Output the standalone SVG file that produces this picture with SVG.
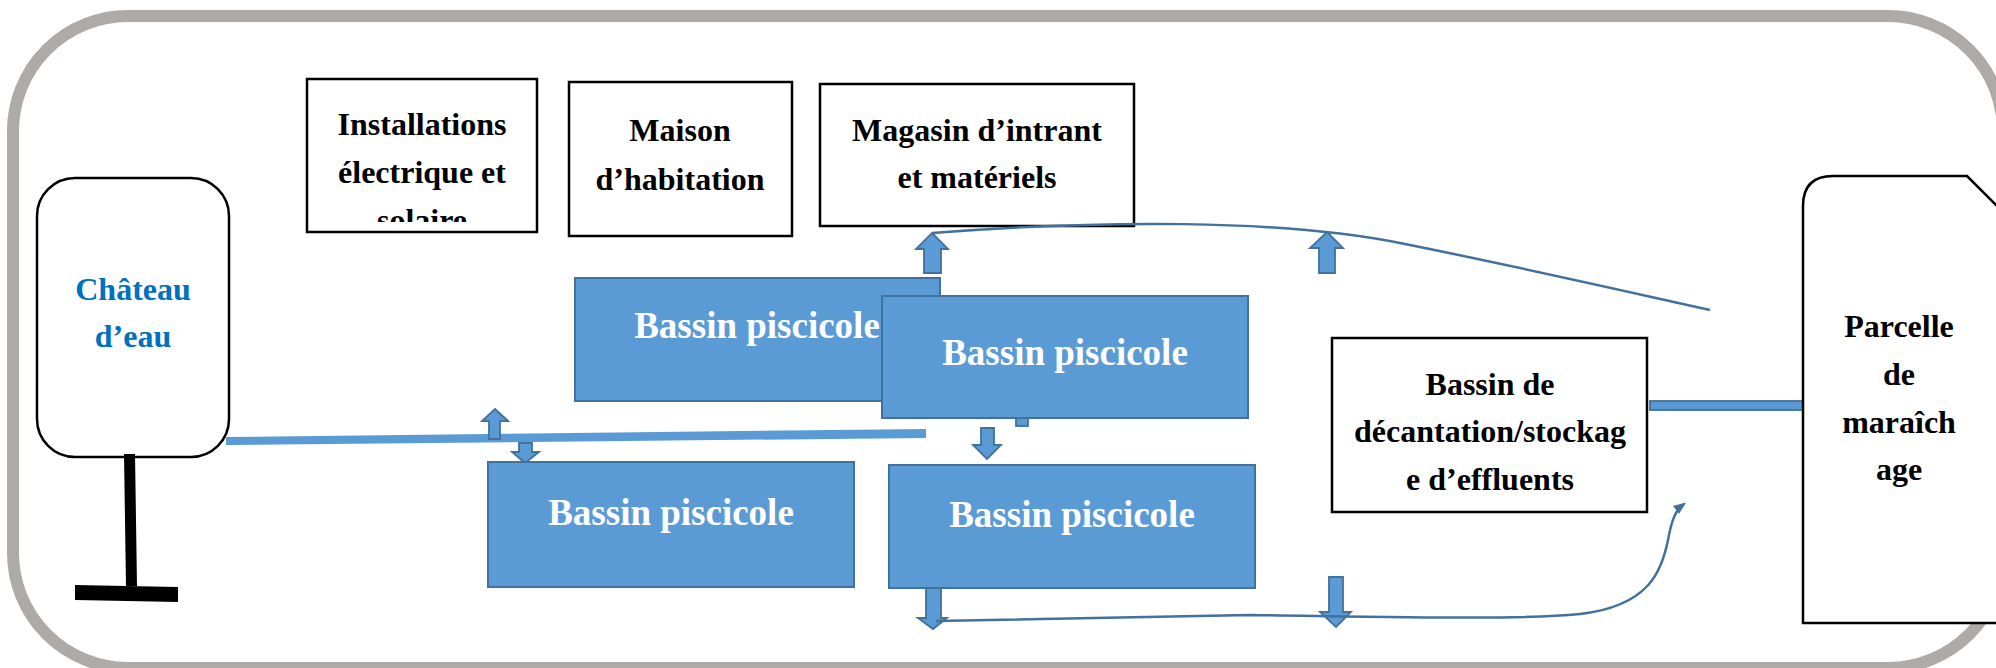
<svg xmlns="http://www.w3.org/2000/svg" width="1996" height="668" viewBox="0 0 1996 668">
<style>
.box{fill:#fff;stroke:#000;stroke-width:2.5}
.pond{fill:#5B9BD5;stroke:#41719C;stroke-width:2}
.blk{fill:#5B9BD5;stroke:#41719C;stroke-width:1.8;stroke-linejoin:miter}
.t{font-family:"Liberation Serif","Times New Roman",serif;font-weight:bold;font-size:32px;fill:#000;text-anchor:middle}
.tw{font-family:"Liberation Serif","Times New Roman",serif;font-weight:bold;font-size:37px;fill:#fff;text-anchor:middle}
.tb{font-family:"Liberation Serif","Times New Roman",serif;font-weight:bold;font-size:32px;fill:#0070C0;text-anchor:middle}
.curve{fill:none;stroke:#41719C;stroke-width:2.5}
</style>
<defs>
<clipPath id="clipInst"><rect x="300" y="70" width="250" height="152"/></clipPath>
<marker id="tip" viewBox="0 0 10 10" refX="8" refY="5" markerWidth="5" markerHeight="5" orient="auto" markerUnits="strokeWidth">
<path d="M0,1 L10,5 L0,9 Z" fill="#41719C"/>
</marker>
</defs>
<rect id="frame" x="13" y="16" width="1990" height="652" rx="115" ry="115" fill="#fff" stroke="#AEAAA8" stroke-width="12"/>

<g id="chateau">
<rect class="box" x="37" y="178" width="192" height="279" rx="38" ry="38"/>
<text class="tb" x="133" y="300">Château</text>
<text class="tb" x="133" y="347">d’eau</text>
<polygon points="124,454 135,454 137,586 126,586" fill="#000"/>
<polygon points="75,585 178,587 178,602 75,600" fill="#000"/>
</g>

<g id="installations">
<rect class="box" x="307" y="79" width="230" height="153"/>
<g clip-path="url(#clipInst)">
<text class="t" x="422" y="135">Installations</text>
<text class="t" x="422" y="183">électrique et</text>
<text class="t" x="422" y="231">solaire</text>
</g>
</g>

<g id="maison">
<rect class="box" x="569" y="82" width="223" height="154"/>
<text class="t" x="680" y="141">Maison</text>
<text class="t" x="680" y="190">d’habitation</text>
</g>

<g id="magasin">
<rect class="box" x="820" y="84" width="314" height="142"/>
<text class="t" x="977" y="141">Magasin d’intrant</text>
<text class="t" x="977" y="188">et matériels</text>
</g>

<g id="connectors">
<polygon points="226,437 926,429 926,438 226,445" fill="#5B9BD5"/>
<path class="blk" d="M495,409 L508,421 L500,421 L500,439 L489,439 L489,421 L482,421 Z"/>
<path class="blk" d="M519,443 L532,443 L532,452 L539,452 L525,463 L512,452 L519,452 Z"/>
<path class="blk" d="M932,233 L948,249 L941,249 L941,273 L924,273 L924,249 L916,249 Z"/>
<path class="blk" d="M1327,232 L1343,248 L1335,248 L1335,273 L1319,273 L1319,248 L1310,248 Z"/>
<path class="blk" d="M981,428 L994,428 L994,445 L1001,445 L987,459 L973,445 L981,445 Z"/>
<rect class="blk" x="1016" y="416" width="12" height="10"/>
<path class="blk" d="M926,588 L941,588 L941,618 L947,618 L933,629 L918,618 L926,618 Z"/>
<path class="blk" d="M1329,577 L1343,577 L1343,612 L1351,612 L1336,627 L1320,612 L1329,612 Z"/>
<path class="curve" d="M932,233 C1100,220 1280,219 1400,243 S1620,290 1710,310"/>
<path class="curve" d="M936,621 L1250,615 C1400,617 1520,620 1580,614 C1650,606 1662,570 1668,540 C1672,518 1676,510 1684,504" marker-end="url(#tip)"/>
<rect class="blk" x="1650" y="401" width="153" height="9"/>
</g>

<g id="bassin1">
<rect class="pond" x="575" y="278" width="365" height="123"/>
<text class="tw" x="757" y="338">Bassin piscicole</text>
</g>

<g id="bassin2">
<rect class="pond" x="882" y="296" width="366" height="122"/>
<text class="tw" x="1065" y="365">Bassin piscicole</text>
</g>

<g id="bassin3">
<rect class="pond" x="488" y="462" width="366" height="125"/>
<text class="tw" x="671" y="525">Bassin piscicole</text>
</g>

<g id="bassin4">
<rect class="pond" x="889" y="465" width="366" height="123"/>
<text class="tw" x="1072" y="527">Bassin piscicole</text>
</g>

<g id="decantation">
<rect class="box" x="1332" y="338" width="315" height="174"/>
<text class="t" x="1490" y="395">Bassin de</text>
<text class="t" x="1490" y="442">décantation/stockag</text>
<text class="t" x="1490" y="490">e d’effluents</text>
</g>

<g id="parcelle">
<path class="box" d="M1803,623 V206 Q1803,176 1833,176 H1967 L2010,219 V623 Z"/>
<text class="t" x="1899" y="337">Parcelle</text>
<text class="t" x="1899" y="385">de</text>
<text class="t" x="1899" y="433">maraîch</text>
<text class="t" x="1899" y="480">age</text>
</g>
</svg>
